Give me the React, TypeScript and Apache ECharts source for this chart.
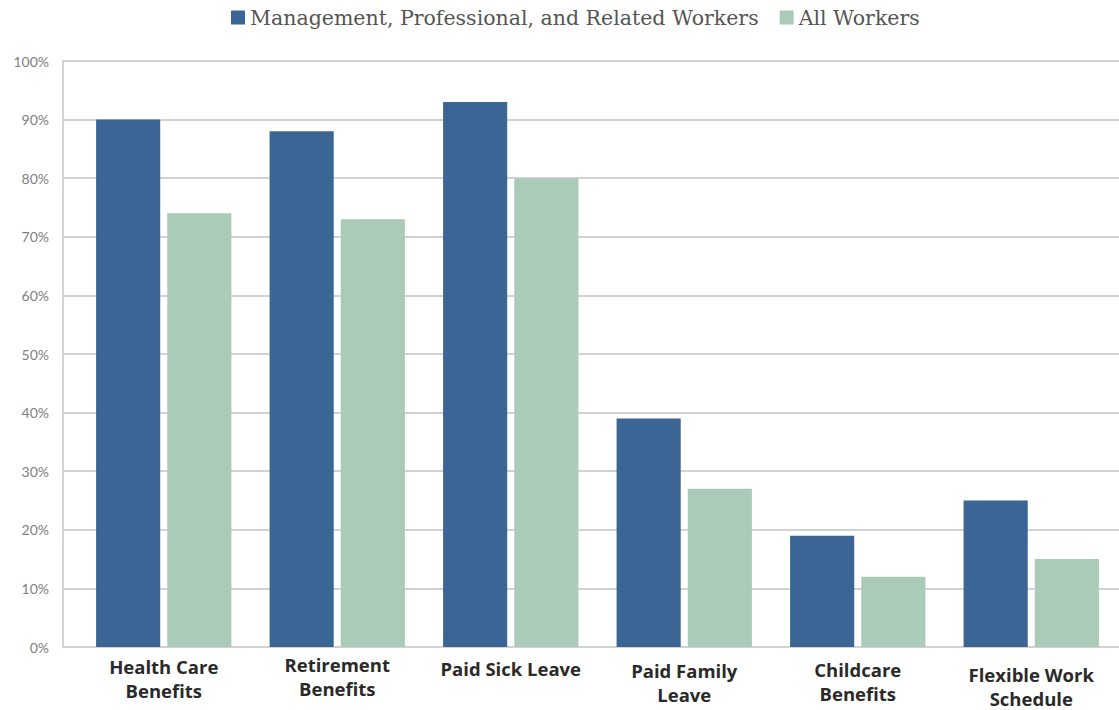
import React, { useEffect, useRef } from "react";
import * as echarts from "echarts";

const categories = [
  "Health Care\nBenefits",
  "Retirement\nBenefits",
  "Paid Sick Leave",
  "Paid Family\nLeave",
  "Childcare\nBenefits",
  "Flexible Work\nSchedule",
];
// small vertical nudges for each category label
const labelOffsets = [2, 0, 4, 6, 5, 10];

const seriesNames = ["Management, Professional, and Related Workers", "All Workers"];
const managementValues = [90, 88, 93, 39, 19, 25];
const allWorkersValues = [74, 73, 80, 27, 12, 15];
const percentMax = 100;
const percentStep = 10;

const BLUE = "#3b6594";
const GREEN = "#a9cbb8";
const RULE = "#d2d2d2";

export default function App() {
  const ref = useRef<HTMLDivElement>(null);

  useEffect(() => {
    if (!ref.current) return;
    const chart = echarts.init(ref.current, null, { renderer: "svg" });
    const top = 61;
    const bottom = 63;
    chart.setOption({
      animation: false,
      backgroundColor: "#ffffff",
      legend: {
        top: 2,
        left: 226,
        itemWidth: 14,
        itemHeight: 14,
        itemGap: 21,
        icon: "rect",
        textStyle: {
          fontFamily: "DejaVu Serif",
          fontSize: 20.5,
          color: "#555555",
        },
        data: seriesNames,
      },
      grid: [
        // frame: y axis, gridlines and baseline
        { left: 63, right: 0, top, bottom, containLabel: false, outerBoundsMode: "none" },
        // bar area
        { left: 77, right: 1, top, bottom, containLabel: false, outerBoundsMode: "none" },
      ],
      xAxis: [
        {
          gridIndex: 0,
          type: "value",
          min: 0,
          max: 1,
          axisLine: { show: true, lineStyle: { color: RULE, width: 2 } },
          axisTick: { show: false },
          axisLabel: { show: false },
          splitLine: { show: false },
        },
        {
          gridIndex: 1,
          type: "category",
          data: categories.map((c, i) => ({
            value: c,
            textStyle: { padding: [labelOffsets[i], 0, 0, 0] },
          })),
          axisLine: { show: false },
          axisTick: { show: false },
          axisLabel: {
            margin: 5,
            interval: 0,
            fontFamily: "Open Sans",
            fontWeight: "bold",
            fontSize: 18.5,
            lineHeight: 24,
            color: "#2a2a2a",
          },
        },
      ],
      yAxis: [
        {
          gridIndex: 0,
          type: "value",
          min: 0,
          max: percentMax,
          interval: percentStep,
          axisLine: { show: true, lineStyle: { color: RULE, width: 2 } },
          axisTick: { show: false },
          splitLine: { lineStyle: { color: RULE, width: 2 } },
          axisLabel: {
            formatter: "{value}%",
            margin: 14,
            fontFamily: "Lato",
            fontSize: 14,
            color: "#808080",
          },
        },
        {
          gridIndex: 1,
          type: "value",
          min: 0,
          max: percentMax,
          interval: percentStep,
          show: false,
        },
      ],
      series: [
        {
          name: seriesNames[0],
          type: "bar",
          xAxisIndex: 1,
          yAxisIndex: 1,
          data: managementValues,
          itemStyle: { color: BLUE },
          barGap: "11%",
          barCategoryGap: "22%",
        },
        {
          name: seriesNames[1],
          type: "bar",
          xAxisIndex: 1,
          yAxisIndex: 1,
          data: allWorkersValues,
          itemStyle: { color: GREEN },
        },
      ],
    });
    return () => chart.dispose();
  }, []);

  return (
    <div
      ref={ref}
      style={{ position: "fixed", left: 0, top: 0, width: 1119, height: 710 }}
    />
  );
}
